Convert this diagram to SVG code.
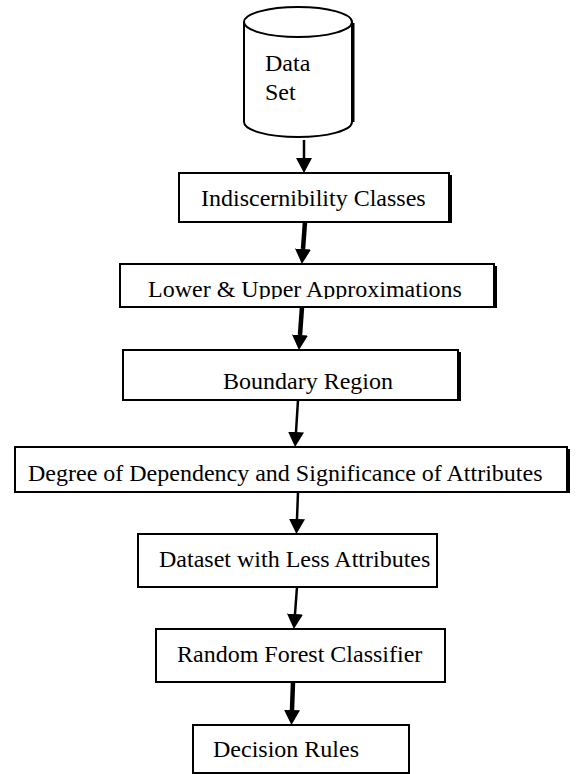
<svg xmlns="http://www.w3.org/2000/svg" width="581" height="774" viewBox="0 0 581 774">
<style>
.box{fill:#fff;stroke:#000;stroke-width:2}
.thin{stroke:#000;stroke-width:2.5;fill:none}
.thick{stroke:#000;stroke-width:4.5;fill:none}
.sh{stroke:#000;stroke-width:2;fill:none}
</style>
<defs>
<marker id="ah" markerUnits="userSpaceOnUse" markerWidth="16" markerHeight="16" refX="0" refY="8" orient="auto" viewBox="0 0 16 16">
<path d="M0,0 L15,8 L0,16 z" fill="#000"/>
</marker>
<clipPath id="c2"><rect x="120" y="264" width="374" height="35"/></clipPath>
<clipPath id="c4"><rect x="15" y="447" width="552" height="39"/></clipPath>
</defs>
<rect width="581" height="774" fill="#fff"/>
<g id="connectors">
<line class="thin" x1="304" y1="140" x2="304" y2="158" marker-end="url(#ah)"/>
<line class="thick" x1="305" y1="222" x2="303" y2="249" marker-end="url(#ah)"/>
<line class="thick" x1="302" y1="307" x2="300" y2="335" marker-end="url(#ah)"/>
<line class="thin" x1="298" y1="400" x2="296" y2="432" marker-end="url(#ah)"/>
<line class="thin" x1="298" y1="492" x2="297" y2="519" marker-end="url(#ah)"/>
<line class="thin" x1="297" y1="587" x2="295" y2="614" marker-end="url(#ah)"/>
<line class="thick" x1="293" y1="682" x2="292" y2="710" marker-end="url(#ah)"/>
</g>
<g font-family="Liberation Serif, Times New Roman, serif" font-size="24" fill="#000">
<g id="dataset">
<path class="box" d="M244,22 L244,122 A54,15 0 0 0 352,122 L352,22 A54,15 0 0 0 244,22 A54,15 0 0 0 352,22"/>
<line class="sh" x1="353.5" y1="23" x2="353.5" y2="122"/>
<text x="265" y="71">Data</text>
<text x="265" y="100">Set</text>
</g>
<g id="indiscernibility">
<rect class="box" x="179" y="173" width="270" height="49"/>
<line class="sh" x1="451" y1="175" x2="451" y2="223"/>
<text x="201" y="206">Indiscernibility Classes</text>
</g>
<g id="approximations">
<rect class="box" x="120" y="264" width="374" height="43"/>
<line class="sh" x1="496" y1="266" x2="496" y2="308"/>
<text x="148" y="297" clip-path="url(#c2)">Lower &amp; Upper Approximations</text>
</g>
<g id="boundary">
<rect class="box" x="123" y="350" width="335" height="50"/>
<line class="sh" x1="460" y1="352" x2="460" y2="401"/>
<text x="223" y="389">Boundary Region</text>
</g>
<g id="dependency">
<rect class="box" x="15" y="447" width="552" height="45"/>
<line class="sh" x1="569" y1="449" x2="569" y2="493"/>
<text x="28" y="481" clip-path="url(#c4)">Degree of Dependency and Significance of Attributes</text>
</g>
<g id="reduced">
<rect class="box" x="138" y="534" width="299" height="53"/>
<text x="159" y="567">Dataset with Less Attributes</text>
</g>
<g id="classifier">
<rect class="box" x="156" y="629" width="289" height="53"/>
<text x="177" y="662">Random Forest Classifier</text>
</g>
<g id="rules">
<rect class="box" x="193" y="725" width="216" height="48"/>
<text x="213" y="757">Decision Rules</text>
</g>
</g>
</svg>
